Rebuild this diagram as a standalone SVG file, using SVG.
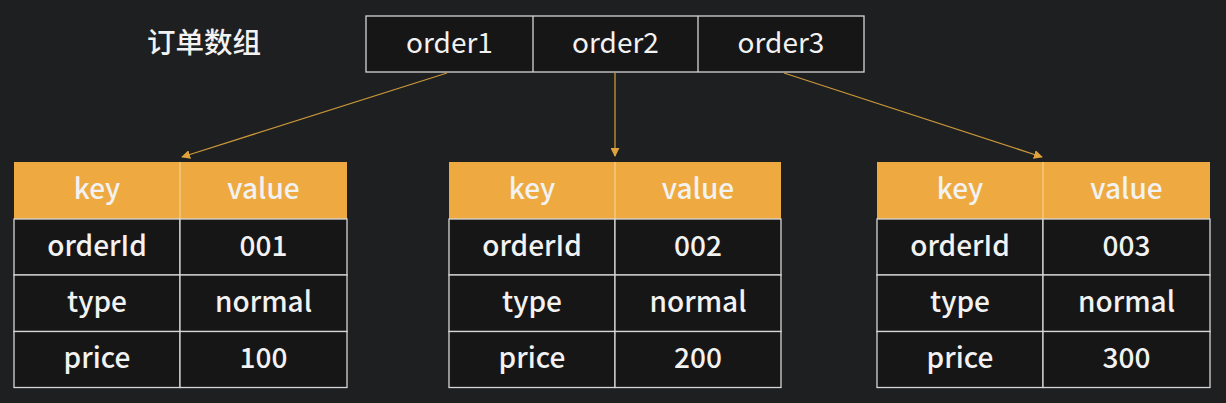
<svg xmlns="http://www.w3.org/2000/svg" width="1226" height="403" viewBox="0 0 1226 403">
<defs>
<style>
.t{font-family:"Noto Sans CJK SC","Noto Sans",sans-serif;fill:#f2f2f2;text-anchor:middle;font-weight:500}
.arr{font-size:28px;font-weight:400}
.tb{font-size:28px}
.cell{fill:#161616;stroke:#d6d6d6;stroke-width:1.3}
.head{fill:#eeaa40}
.hl{stroke:#f6d9a0;stroke-width:1}
.conn{stroke:#c9973a;stroke-width:1.3;fill:none;marker-end:url(#ah)}
</style>
<marker id="ah" viewBox="0 0 10 10" refX="9" refY="5" markerWidth="9" markerHeight="9" markerUnits="userSpaceOnUse" orient="auto">
<path d="M0,0 L10,5 L0,10 z" fill="#e0a23c"/>
</marker>
</defs>
<rect width="1226" height="403" fill="#1e1f21"/>
<g id="label">
<text class="t" x="147" y="53" style="text-anchor:start;font-size:28.5px">订单数组</text>
</g>
<g id="array">
<rect class="cell" x="366" y="16" width="498" height="56" fill="#1a1b1d"/>
<line x1="533" y1="16" x2="533" y2="72" stroke="#d6d6d6" stroke-width="1.3"/>
<line x1="698" y1="16" x2="698" y2="72" stroke="#d6d6d6" stroke-width="1.3"/>
<text class="t arr" x="449.5" y="53">order1</text>
<text class="t arr" x="615.5" y="53">order2</text>
<text class="t arr" x="781" y="53">order3</text>
</g>
<g id="connectors">
<line class="conn" x1="447" y1="73" x2="182" y2="157"/>
<line class="conn" x1="615" y1="73" x2="615" y2="156"/>
<line class="conn" x1="784" y1="73" x2="1042" y2="157"/>
</g>
<g id="table1">
<rect class="head" x="14" y="162" width="333" height="57"/>
<line class="hl" x1="180" y1="162" x2="180" y2="219"/>
<rect class="cell" x="14" y="219" width="166" height="56"/>
<rect class="cell" x="180" y="219" width="167" height="56"/>
<rect class="cell" x="14" y="275" width="166" height="56.5"/>
<rect class="cell" x="180" y="275" width="167" height="56.5"/>
<rect class="cell" x="14" y="331.5" width="166" height="56"/>
<rect class="cell" x="180" y="331.5" width="167" height="56"/>
<text class="t tb" x="97" y="199">key</text>
<text class="t tb" x="263.5" y="199">value</text>
<text class="t tb" x="97" y="256">orderId</text>
<text class="t tb" x="263.5" y="256">001</text>
<text class="t tb" x="97" y="312">type</text>
<text class="t tb" x="263.5" y="312">normal</text>
<text class="t tb" x="97" y="368">price</text>
<text class="t tb" x="263.5" y="368">100</text>
</g>
<g id="table2">
<rect class="head" x="449" y="162" width="332" height="57"/>
<line class="hl" x1="615" y1="162" x2="615" y2="219"/>
<rect class="cell" x="449" y="219" width="166" height="56"/>
<rect class="cell" x="615" y="219" width="166" height="56"/>
<rect class="cell" x="449" y="275" width="166" height="56.5"/>
<rect class="cell" x="615" y="275" width="166" height="56.5"/>
<rect class="cell" x="449" y="331.5" width="166" height="56"/>
<rect class="cell" x="615" y="331.5" width="166" height="56"/>
<text class="t tb" x="532" y="199">key</text>
<text class="t tb" x="698" y="199">value</text>
<text class="t tb" x="532" y="256">orderId</text>
<text class="t tb" x="698" y="256">002</text>
<text class="t tb" x="532" y="312">type</text>
<text class="t tb" x="698" y="312">normal</text>
<text class="t tb" x="532" y="368">price</text>
<text class="t tb" x="698" y="368">200</text>
</g>
<g id="table3">
<rect class="head" x="877" y="162" width="333" height="57"/>
<line class="hl" x1="1043" y1="162" x2="1043" y2="219"/>
<rect class="cell" x="877" y="219" width="166" height="56"/>
<rect class="cell" x="1043" y="219" width="167" height="56"/>
<rect class="cell" x="877" y="275" width="166" height="56.5"/>
<rect class="cell" x="1043" y="275" width="167" height="56.5"/>
<rect class="cell" x="877" y="331.5" width="166" height="56"/>
<rect class="cell" x="1043" y="331.5" width="167" height="56"/>
<text class="t tb" x="960" y="199">key</text>
<text class="t tb" x="1126.5" y="199">value</text>
<text class="t tb" x="960" y="256">orderId</text>
<text class="t tb" x="1126.5" y="256">003</text>
<text class="t tb" x="960" y="312">type</text>
<text class="t tb" x="1126.5" y="312">normal</text>
<text class="t tb" x="960" y="368">price</text>
<text class="t tb" x="1126.5" y="368">300</text>
</g>
</svg>
